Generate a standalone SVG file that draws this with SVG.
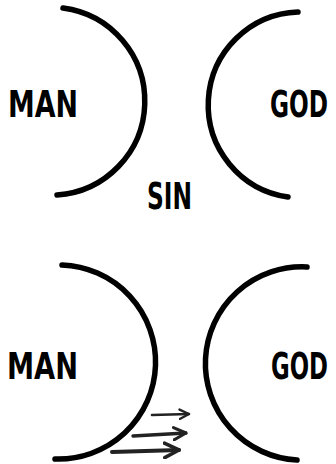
<svg xmlns="http://www.w3.org/2000/svg" width="336" height="464" viewBox="0 0 336 464">
<style>
.arc{fill:none;stroke:#000;stroke-width:5.5;stroke-linecap:round}
.lbl{font-family:"DejaVu Sans Condensed","Liberation Sans",sans-serif;font-weight:bold;font-size:30px;fill:#000}
.arr{fill:none;stroke:#222;stroke-linecap:round;marker-end:url(#head)}
</style>
<defs>
<marker id="head" viewBox="0 0 10 10" refX="9" refY="5" markerWidth="4.5" markerHeight="4.5" orient="auto" markerUnits="strokeWidth">
<path d="M1,1 L9,5 L1,9" fill="none" stroke="#222" stroke-width="2" stroke-linecap="round" stroke-linejoin="round"/>
</marker>
</defs>
<rect width="336" height="464" fill="#fff"/>
<g id="man-top">
<path class="arc" d="M63,8 A94,94 0 0 1 57,195"/>
<text class="lbl" transform="translate(8,117) scale(1,1.25)" textLength="70" lengthAdjust="spacingAndGlyphs">MAN</text>
</g>
<g id="god-top">
<path class="arc" d="M298,12 A93,93 0 0 0 288,197"/>
<text class="lbl" transform="translate(270,117) scale(1,1.25)" textLength="58" lengthAdjust="spacingAndGlyphs">GOD</text>
</g>
<g id="sin">
<text class="lbl" transform="translate(147,209) scale(1,1.25)" textLength="45" lengthAdjust="spacingAndGlyphs">SIN</text>
</g>
<g id="man-bottom">
<path class="arc" d="M62,265 A97,97 0 0 1 55,459"/>
<text class="lbl" transform="translate(7,379) scale(1,1.25)" textLength="71" lengthAdjust="spacingAndGlyphs">MAN</text>
</g>
<g id="god-bottom">
<path class="arc" d="M307,267 A96.5,96.5 0 0 0 297,460"/>
<text class="lbl" transform="translate(271,379) scale(1,1.25)" textLength="57" lengthAdjust="spacingAndGlyphs">GOD</text>
</g>
<g id="connectors">
<path class="arr" stroke-width="2.6" d="M152,415 L189,414"/>
<path class="arr" stroke-width="3.4" d="M133,436 L186,433"/>
<path class="arr" stroke-width="4" d="M112,452 L179,450"/>
</g>
</svg>
